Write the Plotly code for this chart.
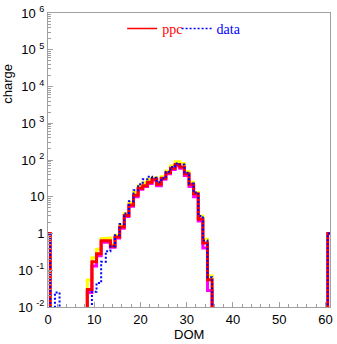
import plotly.graph_objects as go

# DOM bins (bin k is centred on DOM k, width 1)
doms = list(range(0, 62))

# charge per DOM; bins not listed are empty
ppc_nz = {0: 1, 9: 0.03, 10: 0.17, 11: 0.28, 12: 0.63, 13: 0.63, 14: 0.45, 15: 0.8,
          16: 1.5, 17: 3.1, 18: 6, 19: 11, 20: 17, 21: 20, 22: 25, 23: 30, 24: 22,
          25: 32, 26: 45, 27: 60, 28: 75, 29: 65, 30: 42, 31: 22, 32: 12, 33: 2.5,
          34: 0.55, 35: 0.055, 61: 1}
ppc_hi_nz = {9: 0.054, 10: 0.22, 11: 0.37, 12: 0.72, 13: 0.75, 14: 0.5, 15: 0.9,
             16: 1.7, 17: 3.5, 18: 7, 19: 13, 20: 20, 21: 24, 22: 30, 23: 33, 24: 25,
             25: 35, 26: 50, 27: 70, 28: 90, 29: 80, 30: 48, 31: 25, 32: 13, 33: 3,
             34: 0.7, 35: 0.07}
ppc_lo_nz = {9: 0.025, 10: 0.13, 11: 0.25, 12: 0.58, 13: 0.58, 14: 0.42, 15: 0.75,
             16: 1.4, 17: 2.9, 18: 5.5, 19: 10, 20: 16, 21: 19, 22: 23, 23: 28, 24: 20,
             25: 30, 26: 42, 27: 55, 28: 70, 29: 60, 30: 38, 31: 19, 32: 10, 33: 2.2,
             34: 0.4, 35: 0.028}
data_nz = {0: 1, 2: 0.025, 10: 0.026, 11: 0.045, 12: 0.17, 13: 0.33, 14: 0.45, 15: 0.9,
           16: 1.8, 17: 3.5, 18: 7.5, 19: 15, 20: 22, 21: 30, 22: 35, 23: 33, 24: 25,
           25: 32, 26: 48, 27: 65, 28: 80, 29: 75, 30: 45, 31: 23, 32: 13, 33: 3,
           34: 0.65, 35: 0.065, 61: 1}

ppc = [ppc_nz.get(d) for d in doms]
ppc_hi = [ppc_hi_nz.get(d) for d in doms]
ppc_lo = [ppc_lo_nz.get(d) for d in doms]
data = [data_nz.get(d) for d in doms]

x_ticks = [0, 10, 20, 30, 40, 50, 60]
y_ticks = [1e-2, 1e-1, 1, 10, 1e2, 1e3, 1e4, 1e5, 1e6]
y_ticktext = ["10 <sup>-2</sup>", "10 <sup>-1</sup>", "1", "10", "10 <sup>2</sup>",
              "10 <sup>3</sup>", "10 <sup>4</sup>", "10 <sup>5</sup>", "10 <sup>6</sup>"]

FLOOR = 1e-4  # below the axis; empty bins drop out of view


def step_path(values):
    """Histogram outline: vertical edges at k±0.5, dropping to the floor for empty bins."""
    xs, ys = [], []
    prev = FLOOR
    for d, v in zip(doms, values):
        cur = v if v else FLOOR
        lo, hi = d - 0.5, d + 0.5
        xs += [lo, lo, hi]
        ys += [prev, cur, cur]
        prev = cur
    xs.append(doms[-1] + 0.5)
    ys.append(FLOOR)
    return xs, ys


fig = go.Figure()
for vals, color, width, dash in [
    (ppc_hi, "#ffff00", 3, "solid"),
    (ppc_lo, "#ff00ff", 3, "solid"),
    (ppc, "#ff0000", 3, "solid"),
    (data, "#0000ff", 2, "2px,2px"),
]:
    xs, ys = step_path(vals)
    fig.add_trace(go.Scatter(x=xs, y=ys, mode="lines", showlegend=False,
                             line=dict(color=color, width=width, dash=dash),
                             hoverinfo="skip"))

# legend keys drawn with thinner strokes, one legend box per key
for name, color, dash, leg in [("ppc", "#ff0000", "solid", "legend"),
                               ("data", "#0000ff", "2px,2px", "legend2")]:
    fig.add_trace(go.Scatter(x=[None], y=[None], mode="lines", legend=leg,
                             name=f"<span style='color:{color}'>{name}</span>",
                             line=dict(color=color, width=1.5, dash=dash)))

axis_col = "#a0a0a0"
tick_font = dict(family="Liberation Sans", size=13, color="black")
fig.update_xaxes(range=[0, 61], tickvals=x_ticks, ticks="inside", ticklen=5,
                 tickcolor=axis_col, showline=True, linecolor=axis_col, linewidth=1,
                 mirror=True, showgrid=False, zeroline=False, ticklabelstandoff=0,
                 minor=dict(tickvals=list(range(0, 62, 2)), ticks="inside", ticklen=3,
                            tickcolor=axis_col, showgrid=False),
                 tickfont=tick_font)

minor_y = [m * 10 ** e for e in range(-2, 6) for m in range(2, 10)]
fig.update_yaxes(type="log", range=[-2, 6], tickvals=y_ticks, ticktext=y_ticktext,
                 ticks="inside", ticklen=5, tickcolor=axis_col, showline=True,
                 linecolor=axis_col, linewidth=1, mirror=True, showgrid=False,
                 zeroline=False,
                 minor=dict(tickvals=minor_y, ticks="inside", ticklen=3,
                            tickcolor=axis_col, showgrid=False),
                 tickfont=tick_font)

fig.add_annotation(text="DOM", xref="paper", yref="paper", x=0.5, y=-0.093,
                   showarrow=False, xanchor="center", yanchor="middle", font=tick_font)
fig.add_annotation(text="charge", textangle=-90, xref="paper", yref="paper",
                   x=-0.145, y=0.76, showarrow=False, xanchor="center", yanchor="middle",
                   font=tick_font)

leg_style = dict(orientation="h", y=1.0, xanchor="left", yanchor="top",
                 bgcolor="rgba(0,0,0,0)", font=dict(family="Liberation Serif", size=14))
fig.update_layout(
    width=337, height=344,
    margin=dict(l=48, r=4, t=11, b=37),
    paper_bgcolor="white", plot_bgcolor="white",
    legend=dict(x=0.263, **leg_style),
    legend2=dict(x=0.456, **leg_style),
)

fig.write_html("out.html")
